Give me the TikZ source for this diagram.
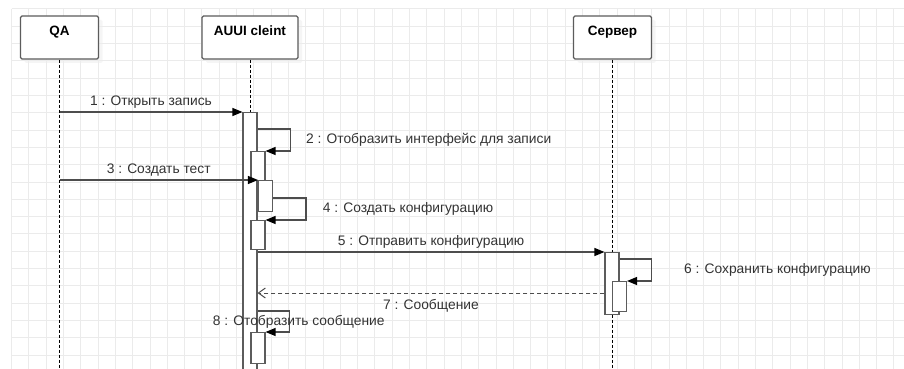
\documentclass[tikz,border=0pt]{standalone}
\usepackage{fontspec}
\setmainfont{Liberation Sans}
\usetikzlibrary{arrows.meta, shadows}

\definecolor{gridgray}{HTML}{EBEBEB}
\definecolor{boxgray}{HTML}{5C5C5C}
\definecolor{msggray}{HTML}{4D4D4D}
\definecolor{textgray}{HTML}{333333}

\begin{document}
\begin{tikzpicture}[
            x=1pt, y=-1pt,
            % Участники (заголовки)
            actor/.style={
                draw=boxgray,
                fill=white,
                line width=1.2pt,
                rounded corners=1.5pt,
                minimum width=78pt,
                inner ysep=0pt,
                text height=19.5pt,
                text depth=23.5pt,
                font=\fontsize{13.5}{16}\selectfont\bfseries,
                drop shadow={shadow xshift=4pt, shadow yshift=-4pt, fill=black!7}
            },
            % Линия жизни
            lifeline/.style={
                draw=black,
                line width=0.9pt,
                dash pattern=on 3pt off 2pt
            },
            % Блок активации
            activation/.style={
                draw=boxgray,
                fill=white,
                line width=1.1pt,
                minimum width=14pt,
                inner sep=0pt,
                anchor=north
            },
            % Сообщения
            msg/.style={
                draw=msggray,
                line width=1.2pt,
                -{Triangle[length=10pt, width=8pt, color=black]}
            },
            reply/.style={
                draw=msggray,
                line width=1pt,
                dash pattern=on 4pt off 3pt,
                -{Straight Barb[length=7pt, width=10pt]}
            },
            msglabel/.style={
                font=\fontsize{13.8}{16}\selectfont,
                text=textgray,
                inner sep=0pt,
                text height=9.7pt,
                text depth=0pt
            },
            gridline/.style={draw=gridgray, line width=0.8pt}
        ]

            \useasboundingbox (0,0) rectangle (904,369);
            \clip (0,0) rectangle (904,369);
            \fill[white] (0,0) rectangle (904,369);

            % Сетка
            \foreach \i in {0,...,51}
                \draw[gridline] ({11.5+17.3*\i},8.9) -- ({11.5+17.3*\i},369);
            \foreach \j in {0,...,20}
                \draw[gridline] (11.5,{8.9+17.3*\j}) -- (904,{8.9+17.3*\j});

            % Участники
            \node[actor] (qa) at (59.5,37.5) {QA};
            \node[actor, minimum width=96pt] (client) at (250,37.5) {AUUI cleint};
            \node[actor] (server) at (612.5,37.5) {Сервер};

            % Линии жизни
            \foreach \p in {qa, client, server}
                \draw[lifeline] (\p.south) -- ++(0,330);

            % Блоки активации
            \node[activation, minimum height=262pt] (act1) at (250,112) {};
            \node[activation, minimum height=29pt] (act2) at (258,151) {};
            \node[activation, minimum height=31pt] (act3) at (265.5,180) {};
            \node[activation, minimum height=29pt] (act4) at (258,220) {};
            \node[activation, minimum height=62pt] (act5) at (612,252) {};
            \node[activation, minimum height=30pt] (act6) at (619.5,281) {};
            \node[activation, minimum height=31pt] (act8) at (258,332) {};

            % Сообщения и подписи
            \draw[msg] (qa.south |- act1.north) -- node[midway, above=6pt, msglabel] (lbl1) {1 : Открыть запись} (act1.north west);
            \draw[msg] (act1.east |- 0,129) -- ++(33,0) |- (act2.north east);
            \node[msglabel, anchor=base west] (lbl2) at (306,143.3) {2 : Отобразить интерфейс для записи};

            \draw[msg] (qa.south |- act3.north) -- node[midway, above=6pt, msglabel] (lbl3) {3 : Создать тест} (act3.north west);
            \draw[msg] (act3.east |- 0,198) -- ++(33,0) |- (act4.north east);
            \node[msglabel, anchor=base west] (lbl4) at (322.7,212.7) {4 : Создать конфигурацию};

            \draw[msg] (act1.east |- act5.north) -- node[midway, above=6pt, msglabel] (lbl5) {5 : Отправить конфигурацию} (act5.north west);
            \draw[msg] (act5.east |- 0,259) -- ++(32,0) |- (act6.north east);
            \node[msglabel, anchor=base west] (lbl6) at (684,273.3) {6 : Сохранить конфигурацию};

            \draw[reply] (act5.west |- 0,293) -- node[midway, below=6.6pt, msglabel] (lbl7) {7 : Сообщение} (act1.east |- 0,293);
            \draw[msg] (act1.east |- 0,311) -- ++(32,0) |- (act8.north east);
            \node[msglabel, anchor=base west] (lbl8) at (212.7,325) {8 : Отобразить сообщение};

        \end{tikzpicture}
\end{document}
